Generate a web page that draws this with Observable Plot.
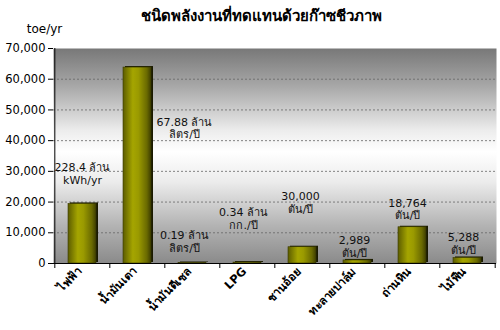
<!DOCTYPE html>
<html>
<head>
<meta charset="utf-8">
<script src="https://cdn.jsdelivr.net/npm/d3@7"></script>
<script src="https://cdn.jsdelivr.net/npm/@observablehq/plot@0.6"></script>
<style>
  body { margin: 0; background: #fff; }
  svg { display: block; }
</style>
</head>
<body>
<div id="chart"></div>
<script>
// Energy replaced by biogas (toe per year)
const title = "ชนิดพลังงานที่ทดแทนด้วยก๊าซชีวภาพ";
const unit = "toe/yr";
const categories = ["ไฟฟ้า", "น้ำมันเตา", "น้ำมันดีเซล", "LPG", "ชานอ้อย", "ทะลายปาล์ม", "ถ่านหิน", "ไม้ฟืน"];
const toe = [19400, 63800, 160, 300, 5300, 1000, 11800, 1800];
const notes = [
  "228.4 ล้าน\nkWh/yr",
  "67.88 ล้าน\nลิตร/ปี",
  "0.19 ล้าน\nลิตร/ปี",
  "0.34 ล้าน\nกก./ปี",
  "30,000\nตัน/ปี",
  "2,989\nตัน/ปี",
  "18,764\nตัน/ปี",
  "5,288\nตัน/ปี"
];
const yTicks = [0, 10000, 20000, 30000, 40000, 50000, 60000, 70000];

const rows = categories.map((c, i) => ({category: c, toe: toe[i], note: notes[i]}));

// layout
const W = 500, H = 330;
const mTop = 48, mBottom = 67, mLeft = 53, mRight = 4;
const plotW = W - mLeft - mRight, plotH = H - mTop - mBottom;
const step = plotW / categories.length;
const font = "Tahoma, 'DejaVu Sans', sans-serif";

// note placement: horizontal nudge (px) and height on the toe axis
const notePlace = [[0, 29300], [47, 44100], [-8, 7100], [-4, 14700], [-2, 19900], [-3, 5500], [-5, 17800], [-4, 6600]];

const noteMarks = rows.map((r, i) => Plot.text([r], {
  x: "category",
  y: () => notePlace[i][1],
  dx: notePlace[i][0],
  text: "note",
  fontSize: 11,
  lineHeight: 1.15,
  fill: "#111"
}));

const chart = Plot.plot({
  width: W,
  height: H,
  marginTop: mTop,
  marginBottom: mBottom,
  marginLeft: mLeft,
  marginRight: mRight,
  style: {fontFamily: font, fontSize: "11px", background: "#fff", color: "#000"},
  x: {domain: categories, paddingInner: 0.5, paddingOuter: 0.25, label: null, axis: null},
  y: {domain: [0, 70000], label: null, axis: null},
  marks: [
    Plot.frame({fill: "url(#plotBg)", stroke: "none"}),
    Plot.gridY(yTicks.filter(t => t > 0 && t < 70000), {stroke: "#666", strokeOpacity: 0.8, strokeDasharray: "2,2"}),
    // bar shadow
    Plot.rectY(rows, {x: "category", y: "toe", fill: "#1a1a00", dx: 2, dy: -1}),
    Plot.rectY(rows, {x: "category", y: "toe", fill: "url(#barFill)", stroke: "#3a3a00", strokeWidth: 0.6}),
    // axes
    Plot.axisY(yTicks, {tickSize: 5, tickPadding: 3, tickFormat: d3.format(","), fontSize: 11.5, stroke: "#000"}),
    Plot.ruleY([0], {stroke: "#000"}),
    Plot.ruleX(categories.slice(0, 1), {x: d => d, dx: -step / 2, stroke: "#000"}),
    Plot.ruleX(categories, {x: d => d, dx: -step / 2, insetTop: plotH, insetBottom: -5, stroke: "#000"}),
    Plot.ruleX(categories.slice(-1), {x: d => d, dx: step / 2, insetTop: plotH, insetBottom: -5, stroke: "#000"}),
    Plot.axisX({tickSize: 0, tickPadding: 6, tickRotate: -45, dx: -3, fontWeight: "bold", fontSize: 11.5}),
    ...noteMarks,
    Plot.text([unit], {frameAnchor: "top-left", dx: -9, dy: -24, text: d => d, textAnchor: "middle", fontSize: 12}),
    Plot.text([title], {frameAnchor: "top", dx: -14, dy: -38, text: d => d, fontWeight: "bold", fontSize: 15})
  ]
});

// gradients for the plot background and the bars
const svg = d3.select(chart);
const defs = svg.insert("defs", ":first-child");
const bg = defs.append("linearGradient").attr("id", "plotBg").attr("x1", 0).attr("y1", 0).attr("x2", 0).attr("y2", 1);
[[0, "#787878"], [0.18, "#a9a9a9"], [0.38, "#ececec"], [0.48, "#ffffff"], [0.62, "#ececec"], [0.82, "#b4b4b4"], [1, "#8a8a8a"]]
  .forEach(([o, c]) => bg.append("stop").attr("offset", o).attr("stop-color", c));
const bar = defs.append("linearGradient").attr("id", "barFill").attr("x1", 0).attr("y1", 0).attr("x2", 1).attr("y2", 0);
[[0, "#5c5c00"], [0.35, "#a5a500"], [0.55, "#9a9a00"], [0.85, "#6a6a00"], [1, "#3e3e00"]]
  .forEach(([o, c]) => bar.append("stop").attr("offset", o).attr("stop-color", c));

document.getElementById("chart").append(chart);
</script>
</body>
</html>
